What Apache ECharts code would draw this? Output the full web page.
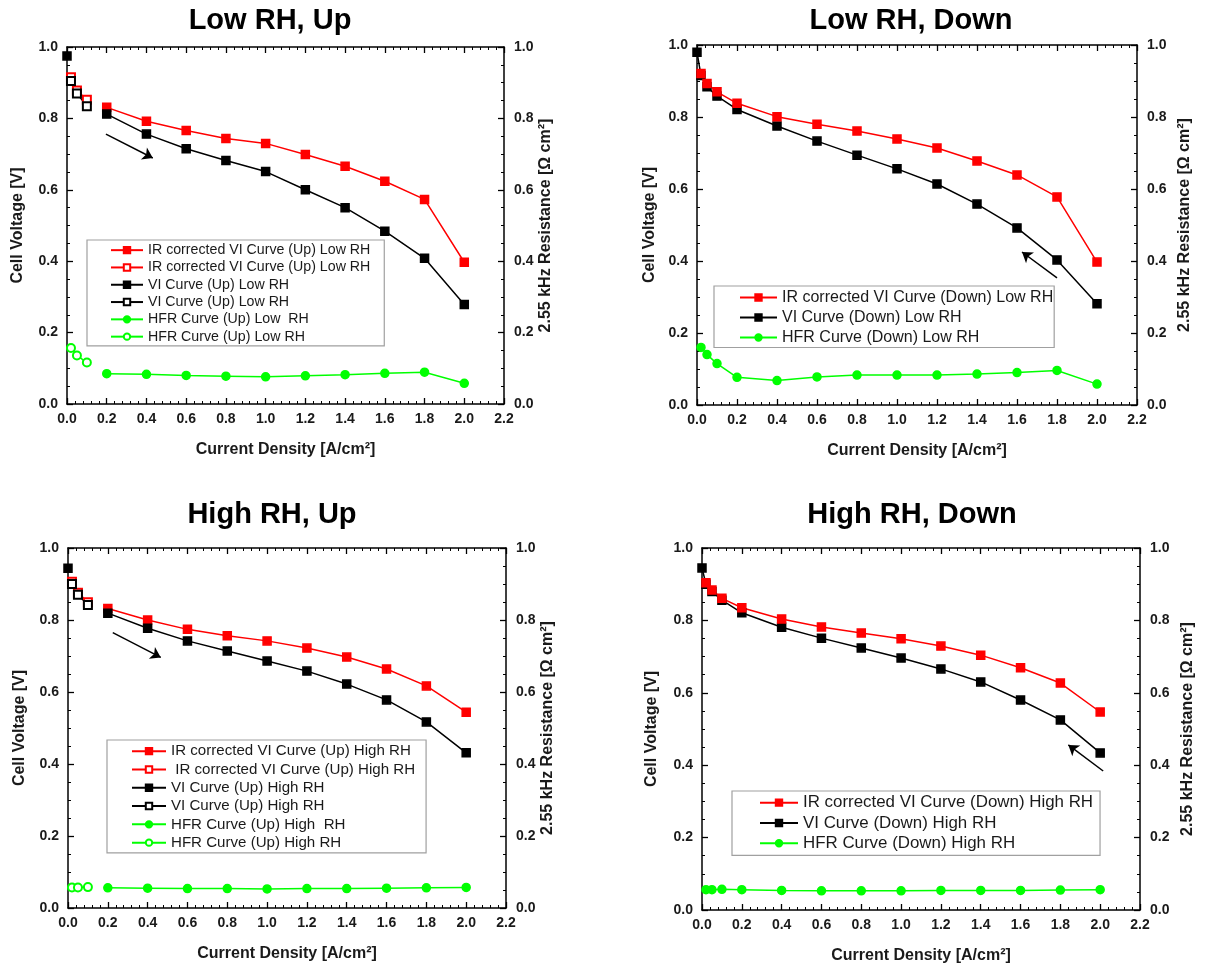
<!DOCTYPE html>
<html><head><meta charset="utf-8">
<script src="https://cdn.jsdelivr.net/npm/echarts@6/dist/echarts.min.js"></script>
<style>html,body{margin:0;padding:0;background:#fff}#c{width:1205px;height:968px}</style>
</head><body><div id="c"></div>
<script>
// ---------- data ----------
const xOcv = [0];
const xFine = [0.02, 0.05, 0.1];
const xMain = [0.2, 0.4, 0.6, 0.8, 1.0, 1.2, 1.4, 1.6, 1.8, 2.0];
const xDownVi = [0, 0.02, 0.05, 0.1, 0.2, 0.4, 0.6, 0.8, 1.0, 1.2, 1.4, 1.6, 1.8, 2.0];
const xDown = [0.02, 0.05, 0.1, 0.2, 0.4, 0.6, 0.8, 1.0, 1.2, 1.4, 1.6, 1.8, 2.0];
const xTicks = ['0.0','0.2','0.4','0.6','0.8','1.0','1.2','1.4','1.6','1.8','2.0','2.2'];
const titles = ['Low RH, Up', 'Low RH, Down', 'High RH, Up', 'High RH, Down'];

// Low RH, Up
const lowUpOcv = [0.975];
const lowUpIrOpen = [0.915, 0.878, 0.852];
const lowUpViOpen = [0.905, 0.870, 0.834];
const lowUpIr = [0.831, 0.792, 0.766, 0.744, 0.730, 0.699, 0.666, 0.624, 0.573, 0.397];
const lowUpVi = [0.812, 0.756, 0.715, 0.682, 0.651, 0.600, 0.550, 0.484, 0.408, 0.279];
const lowUpHfrOpen = [0.157, 0.136, 0.116];
const lowUpHfr = [0.085, 0.083, 0.080, 0.078, 0.076, 0.079, 0.082, 0.086, 0.089, 0.058];
const lowUpArrow = [[0.196, 0.756], [0.432, 0.689]];

// Low RH, Down
const lowDownIr = [0.921, 0.893, 0.870, 0.838, 0.801, 0.780, 0.761, 0.739, 0.714, 0.678, 0.639, 0.578, 0.397];
const lowDownVi = [0.980, 0.915, 0.884, 0.858, 0.821, 0.775, 0.733, 0.694, 0.656, 0.614, 0.558, 0.492, 0.403, 0.281];
const lowDownHfr = [0.160, 0.140, 0.115, 0.077, 0.068, 0.078, 0.083, 0.083, 0.083, 0.086, 0.090, 0.096, 0.058];
const lowDownArrow = [[1.80, 0.353], [1.625, 0.425]];

// High RH, Up
const highUpOcv = [0.944];
const highUpIrOpen = [0.906, 0.876, 0.849];
const highUpViOpen = [0.900, 0.870, 0.842];
const highUpIr = [0.832, 0.800, 0.774, 0.756, 0.742, 0.722, 0.697, 0.664, 0.617, 0.544];
const highUpVi = [0.819, 0.777, 0.742, 0.714, 0.686, 0.658, 0.622, 0.578, 0.517, 0.431];
const highUpHfrOpen = [0.057, 0.057, 0.058];
const highUpHfr = [0.056, 0.055, 0.054, 0.054, 0.053, 0.054, 0.054, 0.055, 0.056, 0.057];
const highUpArrow = [[0.225, 0.765], [0.466, 0.696]];

// High RH, Down
const highDownIr = [0.904, 0.884, 0.861, 0.835, 0.804, 0.782, 0.765, 0.749, 0.729, 0.704, 0.669, 0.627, 0.547];
const highDownVi = [0.945, 0.900, 0.880, 0.856, 0.821, 0.781, 0.751, 0.724, 0.696, 0.666, 0.630, 0.580, 0.525, 0.434];
const highDownHfr = [0.056, 0.056, 0.057, 0.056, 0.054, 0.053, 0.053, 0.053, 0.054, 0.054, 0.054, 0.055, 0.056];
const highDownArrow = [[2.015, 0.384], [1.84, 0.456]];

// ---------- helpers ----------
const FONT = '"Liberation Sans", Arial, sans-serif';
const RED = '#ff0000', BLK = '#000000', GRN = '#00ff00';
function zip(xs, ys) { return xs.map((x, i) => [x, ys[i]]); }
function withBreak(xa, ya, xb, yb) { return zip(xa, ya).concat([[0.1, '-']]).concat(zip(xb, yb)); }

const panels = [
  {grid: {left: 67, top: 47, width: 437, height: 357}, gapL: 41, gapR: 33, gapX: 38,
   legend: {left: 87, top: 240, font: 14.2, lh: 17.3, iw: 32, pad: [1.5, 10, 0.5, 23]}},
  {grid: {left: 697, top: 45, width: 440, height: 360}, gapL: 39, gapR: 40, gapX: 38,
   legend: {left: 714, top: 286, font: 16, lh: 20, iw: 37, pad: [1.5, 1, 0, 25]}},
  {grid: {left: 68, top: 548, width: 438, height: 360}, gapL: 40, gapR: 32, gapX: 38,
   legend: {left: 107, top: 740, font: 15.1, lh: 18.3, iw: 34, pad: [2, 11, 1, 24]}},
  {grid: {left: 702, top: 548, width: 438, height: 362}, gapL: 42, gapR: 40, gapX: 38,
   legend: {left: 732, top: 791, font: 16.9, lh: 20.3, iw: 38, pad: [1.5, 7, 2, 27]}}
];
const titlePos = [[270, 6], [911, 6], [272, 500], [912, 500]];

const grids = [], xAxes = [], yAxes = [], series = [], legends = [], titleComps = [];
const axLine = {show: true, onZero: false, lineStyle: {color: '#000', width: 1.5}};
const lbl = {fontFamily: FONT, fontWeight: 'bold', fontSize: 14, color: '#1a1a1a'};
const nameStyle = {fontFamily: FONT, fontWeight: 'bold', fontSize: 16, color: '#1a1a1a'};
const fmt = v => v.toFixed(1);

panels.forEach((p, i) => {
  grids.push(p.grid);
  const common = {type: 'value', min: 0, interval: 0.2, axisLine: axLine, splitLine: {show: false},
    axisTick: {show: true, inside: true, length: 6, lineStyle: {color: '#000', width: 1.3}},
    minorTick: {show: true, length: 3, lineStyle: {color: '#000', width: 1}}};
  xAxes.push(Object.assign({}, common, {gridIndex: i, max: 2.2, position: 'bottom',
    minorTick: Object.assign({}, common.minorTick, {splitNumber: 5}),
    axisLabel: Object.assign({}, lbl, {margin: 8, formatter: v => xTicks[Math.round(v / 0.2)]}),
    name: 'Current Density [A/cm²]', nameLocation: 'middle', nameGap: p.gapX, nameTextStyle: nameStyle}));
  xAxes.push(Object.assign({}, common, {gridIndex: i, max: 2.2, position: 'top',
    minorTick: Object.assign({}, common.minorTick, {splitNumber: 5}), axisLabel: {show: false}}));
  yAxes.push(Object.assign({}, common, {gridIndex: i, max: 1, position: 'left',
    minorTick: Object.assign({}, common.minorTick, {splitNumber: 4}),
    axisLabel: Object.assign({}, lbl, {margin: 9, formatter: fmt}),
    name: 'Cell Voltage [V]', nameLocation: 'middle', nameRotate: 90, nameGap: p.gapL, nameTextStyle: nameStyle}));
  yAxes.push(Object.assign({}, common, {gridIndex: i, max: 1, position: 'right',
    minorTick: Object.assign({}, common.minorTick, {splitNumber: 4}),
    axisLabel: Object.assign({}, lbl, {margin: 10, formatter: fmt}),
    name: '2.55 kHz Resistance [Ω cm²]', nameLocation: 'middle', nameRotate: 90, nameGap: p.gapR, nameTextStyle: nameStyle}));
  titleComps.push({text: titles[i], left: titlePos[i][0], top: titlePos[i][1], textAlign: 'center', padding: 0,
    textStyle: {fontFamily: FONT, fontWeight: 'bold', fontSize: 29, color: '#000'}});
});

function line(name, gi, right, data, color, symbol, arrow) {
  const s = {name, type: 'line', xAxisIndex: gi * 2, yAxisIndex: gi * 2 + (right ? 1 : 0), data,
    color, symbol, symbolSize: 8, showSymbol: true,
    lineStyle: {color, width: 1.5}, itemStyle: {color, borderColor: color, borderWidth: 1.5},
    connectNulls: false, clip: false, animation: false, z: right ? 2 : 3};
  if (arrow) {
    s.markLine = {silent: true, symbol: ['none', 'arrow'], symbolSize: 10, label: {show: false},
      lineStyle: {color: '#000', width: 1.5, type: 'solid'},
      data: [[{coord: arrow[0]}, {coord: arrow[1]}]]};
  }
  return s;
}

const names = [
  ['IR corrected VI Curve (Up) Low RH', 'IR corrected VI Curve (Up) Low RH ', 'VI Curve (Up) Low RH', 'VI Curve (Up) Low RH ', 'HFR Curve (Up) Low  RH', 'HFR Curve (Up) Low RH'],
  ['IR corrected VI Curve (Down) Low RH', 'VI Curve (Down) Low RH', 'HFR Curve (Down) Low RH'],
  ['IR corrected VI Curve (Up) High RH', ' IR corrected VI Curve (Up) High RH', 'VI Curve (Up) High RH', 'VI Curve (Up) High RH ', 'HFR Curve (Up) High  RH', 'HFR Curve (Up) High RH'],
  ['IR corrected VI Curve (Down) High RH', 'VI Curve (Down) High RH', 'HFR Curve (Down) High RH']
];

// Panel 1
let n = names[0];
series.push(line(n[0], 0, false, zip(xMain, lowUpIr), RED, 'rect'));
series.push(line(n[1], 0, false, zip(xFine, lowUpIrOpen), RED, 'emptyRect'));
series.push(line(n[2], 0, false, withBreak(xOcv, lowUpOcv, xMain, lowUpVi), BLK, 'rect', lowUpArrow));
series.push(line(n[3], 0, false, zip(xFine, lowUpViOpen), BLK, 'emptyRect'));
series.push(line(n[4], 0, true, zip(xMain, lowUpHfr), GRN, 'circle'));
series.push(line(n[5], 0, true, zip(xFine, lowUpHfrOpen), GRN, 'emptyCircle'));
// Panel 2
n = names[1];
series.push(line(n[1], 1, false, zip(xDownVi, lowDownVi), BLK, 'rect', lowDownArrow));
series.push(line(n[0], 1, false, zip(xDown, lowDownIr), RED, 'rect'));
series.push(line(n[2], 1, true, zip(xDown, lowDownHfr), GRN, 'circle'));
// Panel 3
n = names[2];
series.push(line(n[0], 2, false, zip(xMain, highUpIr), RED, 'rect'));
series.push(line(n[1], 2, false, zip(xFine, highUpIrOpen), RED, 'emptyRect'));
series.push(line(n[2], 2, false, withBreak(xOcv, highUpOcv, xMain, highUpVi), BLK, 'rect', highUpArrow));
series.push(line(n[3], 2, false, zip(xFine, highUpViOpen), BLK, 'emptyRect'));
series.push(line(n[4], 2, true, zip(xMain, highUpHfr), GRN, 'circle'));
series.push(line(n[5], 2, true, zip(xFine, highUpHfrOpen), GRN, 'emptyCircle'));
// Panel 4
n = names[3];
series.push(line(n[1], 3, false, zip(xDownVi, highDownVi), BLK, 'rect', highDownArrow));
series.push(line(n[0], 3, false, zip(xDown, highDownIr), RED, 'rect'));
series.push(line(n[2], 3, true, zip(xDown, highDownHfr), GRN, 'circle'));

panels.forEach((p, i) => {
  const L = p.legend;
  legends.push({data: names[i], orient: 'vertical', left: L.left, top: L.top, padding: L.pad,
    itemGap: 0, itemWidth: L.iw, itemHeight: 8, borderColor: '#a0a0a0', borderWidth: 1.2,
    selectedMode: false, align: 'left',
    textStyle: {fontFamily: FONT, fontSize: L.font, color: '#1a1a1a', lineHeight: L.lh, padding: [0, 0, 0, 0]}});
});

const chart = echarts.init(document.getElementById('c'), null, {renderer: 'canvas'});
chart.setOption({animation: false, backgroundColor: '#fff', title: titleComps, grid: grids,
  xAxis: xAxes, yAxis: yAxes, legend: legends, series});
</script></body></html>
